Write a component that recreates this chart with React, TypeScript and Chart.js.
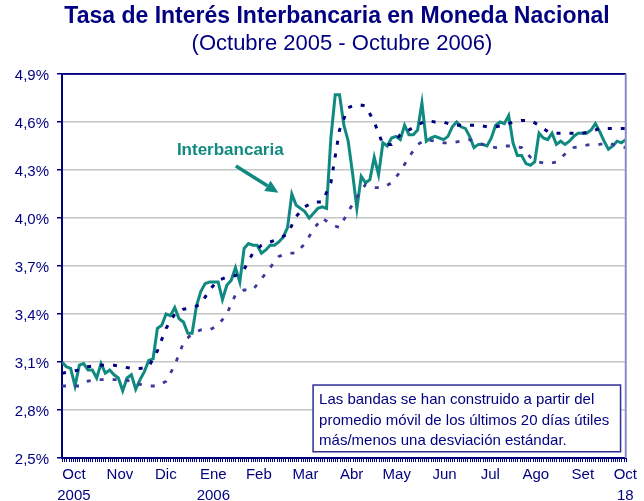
import React, { useEffect, useRef } from "react";
import { Chart, registerables } from "chart.js";

Chart.register(...registerables);

// ---------- Texts ----------
const TITLE = "Tasa de Interés Interbancaria en Moneda Nacional";
const SUBTITLE = "(Octubre 2005 - Octubre 2006)";
const SERIES_LABEL = "Interbancaria";
const NOTE_LINES = [
  "Las bandas se han construido a partir del",
  "promedio móvil de los últimos 20 días útiles",
  "más/menos una desviación estándar.",
];

// ---------- Axes ----------
const monthLabels: string[][] = [
  ["Oct", "2005"], ["Nov"], ["Dic"], ["Ene", "2006"], ["Feb"], ["Mar"], ["Abr"],
  ["May"], ["Jun"], ["Jul"], ["Ago"], ["Set"], ["Oct", "18"],
];
// position of each month label, in business days since 3 Oct 2005
const monthTickDays = [5.5, 26.7, 47.9, 69.8, 90.8, 112.3, 133.6, 154.4, 176.4, 197.5, 218.5, 240.2, 259.8];
const yTickValues = [2.5, 2.8, 3.1, 3.4, 3.7, 4.0, 4.3, 4.6, 4.9];
const TOTAL_DAYS = 260;

// ---------- Data (%), sampled every LINE_STEP / BAND_STEP business days ----------
const LINE_STEP = 2;
const BAND_STEP = 4;

const interbancaria = [
  3.10, 3.07, 3.06, 2.95, 3.08, 3.09, 3.05, 3.05, 3.00, 3.09,
  3.03, 3.05, 3.02, 3.00, 2.92, 3.00, 3.02, 2.93, 2.99, 3.04,
  3.11, 3.12, 3.31, 3.33, 3.40, 3.39, 3.44, 3.37, 3.35, 3.28,
  3.28, 3.45, 3.54, 3.59, 3.60, 3.60, 3.60, 3.49, 3.58, 3.61,
  3.69, 3.60, 3.81, 3.84, 3.83, 3.83, 3.78, 3.80, 3.83, 3.83,
  3.85, 3.88, 3.94, 4.15, 4.08, 4.06, 4.04, 4.00, 4.03, 4.06,
  4.07, 4.06, 4.50, 4.77, 4.77, 4.58, 4.48, 4.28, 4.06, 4.26,
  4.22, 4.24, 4.38, 4.27, 4.47, 4.45, 4.50, 4.51, 4.49, 4.58,
  4.52, 4.52, 4.55, 4.72, 4.48, 4.50, 4.51, 4.50, 4.49, 4.51,
  4.57, 4.60, 4.57, 4.56, 4.51, 4.44, 4.46, 4.46, 4.45, 4.50,
  4.58, 4.60, 4.59, 4.64, 4.47, 4.39, 4.39, 4.34, 4.33, 4.35,
  4.53, 4.50, 4.49, 4.53, 4.46, 4.48, 4.46, 4.48, 4.51, 4.53,
  4.53, 4.53, 4.55, 4.59, 4.54, 4.48, 4.43, 4.45, 4.48, 4.47, 4.49,
];

const bandaSuperior = [
  3.03, 3.04, 3.05, 3.07, 3.08, 3.08, 3.08, 3.07, 3.06, 3.06,
  3.07, 3.17, 3.31, 3.40, 3.43, 3.44, 3.46, 3.55, 3.61, 3.63,
  3.64, 3.68, 3.78, 3.83, 3.85, 3.87, 3.90, 4.01, 4.07, 4.10,
  4.10, 4.22, 4.55, 4.69, 4.71, 4.70, 4.60, 4.46, 4.46, 4.52,
  4.55, 4.58, 4.61, 4.60, 4.60, 4.58, 4.58, 4.58, 4.58, 4.57,
  4.57, 4.58, 4.60, 4.61, 4.61, 4.58, 4.54, 4.53, 4.53, 4.53,
  4.53, 4.54, 4.56, 4.56, 4.56, 4.56,
];

const bandaInferior = [
  2.95, 2.95, 2.95, 2.98, 2.99, 2.99, 2.99, 2.99, 2.98, 2.96,
  2.95, 2.95, 2.98, 3.08, 3.22, 3.28, 3.30, 3.30, 3.33, 3.40,
  3.52, 3.55, 3.55, 3.62, 3.69, 3.76, 3.78, 3.78, 3.84, 3.93,
  4.00, 3.96, 3.94, 4.04, 4.13, 4.21, 4.19, 4.19, 4.22, 4.29,
  4.38, 4.46, 4.49, 4.48, 4.47, 4.47, 4.48, 4.49, 4.47, 4.45,
  4.44, 4.45, 4.45, 4.44, 4.38, 4.35, 4.34, 4.35, 4.40, 4.44,
  4.45, 4.46, 4.46, 4.47, 4.45, 4.44,
];

// Annotation anchors in data units (day, %)
const labelAnchor = { x: 77.6, y: 4.42 };
const arrowFrom = { x: 80.2, y: 4.325 };
const arrowTo = { x: 99.8, y: 4.158 };
const noteBox = { x0: 115.8, x1: 257.6, y0: 2.956, y1: 2.539 };

// ---------- Styles ----------
const NAVY = "#000080";
const TEAL = "#108a80";
const LOWER_BLUE = "#3a3a9c";
const FONT = "'Liberation Sans', Arial, Helvetica, sans-serif";

const decorPlugin = {
  id: "decor",
  beforeDraw(chart: any) {
    const { ctx, width, height } = chart;
    ctx.save();
    ctx.fillStyle = "#ffffff";
    ctx.fillRect(0, 0, width, height);
    ctx.restore();
  },
  afterDraw(chart: any) {
    const { ctx, chartArea } = chart;
    const xs = chart.scales.x;
    const ys = chart.scales.y;
    ctx.save();

    // Titles
    ctx.fillStyle = NAVY;
    ctx.textAlign = "center";
    ctx.textBaseline = "middle";
    ctx.font = `bold 23px ${FONT}`;
    ctx.fillText(TITLE, 337, 17);
    ctx.font = `22px ${FONT}`;
    ctx.fillText(SUBTITLE, 342, 44);

    // top border
    ctx.strokeStyle = NAVY;
    ctx.lineWidth = 1.5;
    ctx.beginPath();
    ctx.moveTo(chartArea.left, chartArea.top);
    ctx.lineTo(chartArea.right, chartArea.top);
    ctx.stroke();
    // right border
    ctx.strokeStyle = "#8a8ac8";
    ctx.lineWidth = 2;
    ctx.beginPath();
    ctx.moveTo(chartArea.right, chartArea.top);
    ctx.lineTo(chartArea.right, chartArea.bottom);
    ctx.stroke();

    // minor ticks along x axis (one per business day)
    ctx.strokeStyle = NAVY;
    ctx.lineWidth = 1;
    ctx.beginPath();
    for (let d = 0; d <= TOTAL_DAYS; d++) {
      const px = Math.round(xs.getPixelForValue(d)) + 0.5;
      ctx.moveTo(px, chartArea.bottom);
      ctx.lineTo(px, chartArea.bottom + 4);
    }
    ctx.stroke();

    // Note box
    const bx0 = xs.getPixelForValue(noteBox.x0);
    const bx1 = xs.getPixelForValue(noteBox.x1);
    const by0 = ys.getPixelForValue(noteBox.y0);
    const by1 = ys.getPixelForValue(noteBox.y1);
    ctx.fillStyle = "#ffffff";
    ctx.fillRect(bx0, by0, bx1 - bx0, by1 - by0);
    ctx.strokeStyle = "#2e2e96";
    ctx.lineWidth = 1.5;
    ctx.strokeRect(bx0, by0, bx1 - bx0, by1 - by0);
    ctx.fillStyle = NAVY;
    ctx.textAlign = "left";
    ctx.textBaseline = "middle";
    ctx.font = `15px ${FONT}`;
    NOTE_LINES.forEach((t, i) => ctx.fillText(t, bx0 + 6, by0 + 15 + i * 20.5));

    // Series label + arrow
    ctx.fillStyle = TEAL;
    ctx.textAlign = "center";
    ctx.font = `bold 17px ${FONT}`;
    ctx.fillText(SERIES_LABEL, xs.getPixelForValue(labelAnchor.x), ys.getPixelForValue(labelAnchor.y));

    const ax0 = xs.getPixelForValue(arrowFrom.x);
    const ay0 = ys.getPixelForValue(arrowFrom.y);
    const ax1 = xs.getPixelForValue(arrowTo.x);
    const ay1 = ys.getPixelForValue(arrowTo.y);
    const ang = Math.atan2(ay1 - ay0, ax1 - ax0);
    const headLen = 13;
    const headW = 6;
    const bxh = ax1 - headLen * Math.cos(ang);
    const byh = ay1 - headLen * Math.sin(ang);
    ctx.strokeStyle = TEAL;
    ctx.lineWidth = 3.5;
    ctx.beginPath();
    ctx.moveTo(ax0, ay0);
    ctx.lineTo(bxh, byh);
    ctx.stroke();
    ctx.beginPath();
    ctx.moveTo(ax1, ay1);
    ctx.lineTo(bxh + headW * Math.sin(ang), byh - headW * Math.cos(ang));
    ctx.lineTo(bxh - headW * Math.sin(ang), byh + headW * Math.cos(ang));
    ctx.closePath();
    ctx.fill();

    ctx.restore();
  },
};

export default function App() {
  const canvasRef = useRef<HTMLCanvasElement | null>(null);

  useEffect(() => {
    document.body.style.margin = "0";
    const canvas = canvasRef.current;
    if (!canvas) return;

    const lineData = interbancaria.map((v, i) => ({ x: i * LINE_STEP, y: v }));
    const upperData = bandaSuperior.map((v, i) => ({ x: i * BAND_STEP, y: v }));
    const lowerData = bandaInferior.map((v, i) => ({ x: i * BAND_STEP, y: v }));

    const chart = new Chart(canvas, {
      type: "line",
      data: {
        datasets: [
          {
            label: "Banda superior",
            data: upperData,
            borderColor: NAVY,
            borderWidth: 3,
            borderDash: [4, 9],
            pointRadius: 0,
            fill: false,
            tension: 0,
          },
          {
            label: "Banda inferior",
            data: lowerData,
            borderColor: LOWER_BLUE,
            borderWidth: 2.8,
            borderDash: [4, 9],
            pointRadius: 0,
            fill: false,
            tension: 0,
          },
          {
            label: SERIES_LABEL,
            data: lineData,
            borderColor: TEAL,
            borderWidth: 3,
            pointRadius: 0,
            fill: false,
            tension: 0,
          },
        ],
      },
      options: {
        responsive: false,
        animation: false,
        devicePixelRatio: 1,
        layout: { padding: { top: 74, right: 18, left: 0, bottom: 0 } },
        plugins: {
          legend: { display: false },
          title: { display: false },
          tooltip: { enabled: false },
        },
        scales: {
          x: {
            type: "linear",
            min: 0,
            max: TOTAL_DAYS,
            afterFit: (s: any) => { s.height = 43; },
            afterBuildTicks: (s: any) => { s.ticks = monthTickDays.map((v) => ({ value: v })); },
            grid: { display: false, drawTicks: false },
            border: { display: true, color: NAVY, width: 2 },
            ticks: {
              autoSkip: false,
              maxRotation: 0,
              padding: 7,
              color: NAVY,
              font: { family: FONT, size: 15, lineHeight: 1.35 },
              callback: (_v: any, i: number) => monthLabels[i],
            },
          },
          y: {
            min: 2.5,
            max: 4.9,
            afterFit: (s: any) => { s.width = 62; },
            afterBuildTicks: (s: any) => { s.ticks = yTickValues.map((v) => ({ value: v })); },
            grid: {
              color: (c: any) => (c.tick && Math.abs(c.tick.value - 4.9) < 1e-6 ? NAVY : "#c6c6c6"),
              lineWidth: 1.5,
              tickLength: 5,
              tickColor: NAVY,
              tickWidth: 1.5,
            },
            border: { display: true, color: NAVY, width: 2 },
            ticks: {
              padding: 8,
              labelOffset: 1.5,
              color: NAVY,
              font: { family: FONT, size: 15 },
              callback: (v: any) => Number(v).toFixed(1).replace(".", ",") + "%",
            },
          },
        },
      },
      plugins: [decorPlugin],
    } as any);

    return () => chart.destroy();
  }, []);

  return (
    <div style={{ width: 644, height: 501 }}>
      <canvas ref={canvasRef} width={644} height={501} style={{ display: "block" }} />
    </div>
  );
}
